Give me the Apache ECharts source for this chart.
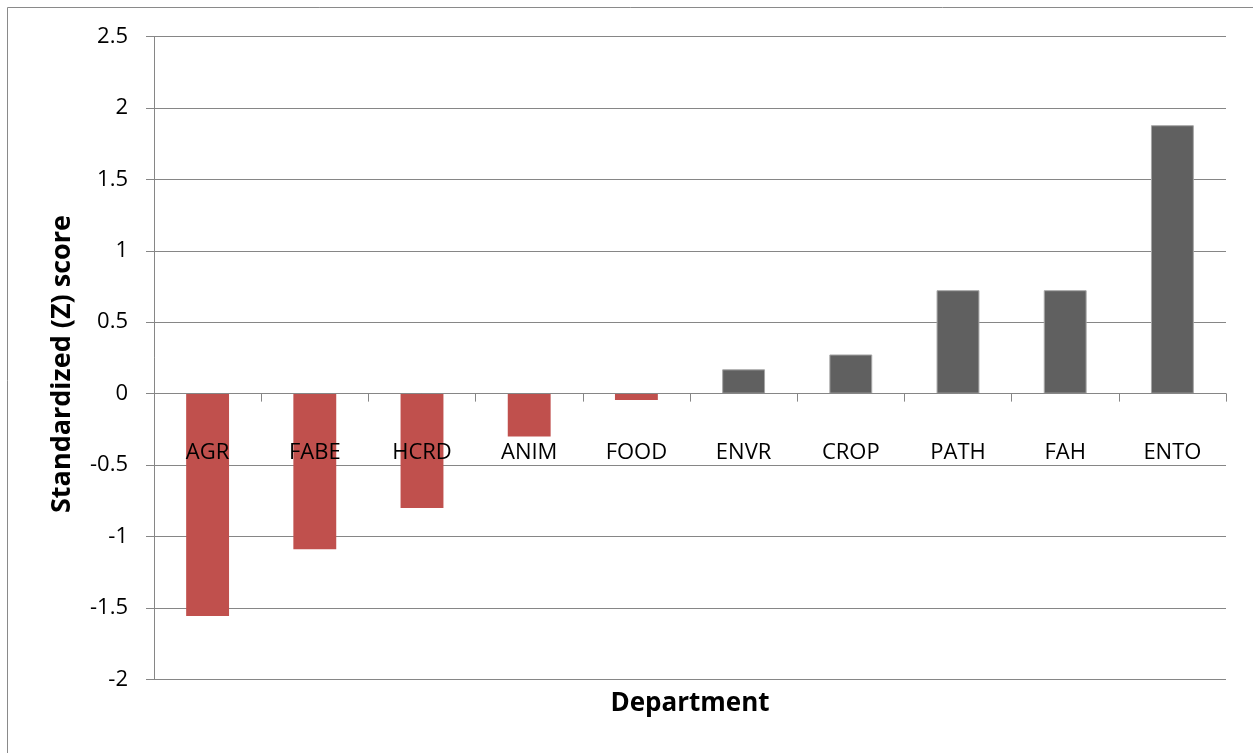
<!DOCTYPE html>
<html>
<head>
<meta charset="utf-8">
<script src="https://cdn.jsdelivr.net/npm/echarts@6/dist/echarts.min.js"></script>
<style>
html,body{margin:0;padding:0;background:#fff;}
#main{width:1253px;height:753px;}
</style>
</head>
<body>
<div id="main"></div>
<script>
var categories = ['AGR','FABE','HCRD','ANIM','FOOD','ENVR','CROP','PATH','FAH','ENTO'];
var zScores = [-1.556, -1.09, -0.80, -0.30, -0.045, 0.17, 0.274, 0.724, 0.724, 1.879];
var yTicks = [-2, -1.5, -1, -0.5, 0, 0.5, 1, 1.5, 2, 2.5];
var xTitle = 'Department';
var yTitle = 'Standardized (Z) score';

var FONT = 'Open Sans';
var GRID_TOP = 36.5, GRID_BOTTOM = 73.7, H = 753;
var plotH = H - GRID_TOP - GRID_BOTTOM;
// distance (px) from bottom of plot to the zero line, derived from the axis range
var zeroOffset = plotH * (0 - (-2)) / (2.5 - (-2));

var chart = echarts.init(document.getElementById('main'));
chart.setOption({
  animation: false,
  backgroundColor: '#fff',
  grid: {left: 154, right: 27, top: GRID_TOP, bottom: GRID_BOTTOM, containLabel: false},
  graphic: [
    {type: 'rect', shape: {x: 7.5, y: 7.5, width: 1300, height: 800}, style: {fill: 'none', stroke: '#8a8a8a', lineWidth: 1}, z: -1},
    {type: 'text', position: [690, 704], style: {text: xTitle, font: 'bold 26px "' + FONT + '"', fill: '#000', textAlign: 'center', textVerticalAlign: 'middle'}},
    {type: 'text', rotation: Math.PI/2, position: [62, 364], style: {text: yTitle, font: 'bold 27px "' + FONT + '"', fill: '#000', textAlign: 'center', textVerticalAlign: 'middle'}}
  ],
  xAxis: {
    type: 'category',
    data: categories,
    position: 'bottom',
    offset: -zeroOffset,
    z: 10,
    axisLine: {onZero: false, lineStyle: {color: '#868686', width: 1}},
    axisTick: {show: true, inside: false, length: 8, lineStyle: {color: '#868686'}},
    axisLabel: {color: '#000', fontFamily: FONT, fontSize: 22, margin: 48, interval: 0},
    splitLine: {show: false}
  },
  yAxis: {
    type: 'value',
    min: -2, max: 2.5, interval: 0.5,
    axisLine: {show: true, lineStyle: {color: '#868686', width: 1}},
    axisTick: {show: true, length: 8, lineStyle: {color: '#868686'}},
    axisLabel: {color: '#000', fontFamily: FONT, fontSize: 22, margin: 26,
      formatter: function(v){ return yTicks.indexOf(v) >= 0 ? String(v) : ''; }},
    splitLine: {show: true, lineStyle: {color: '#868686', width: 1}}
  },
  series: [{
    type: 'bar',
    barWidth: '40%',
    z: 2,
    data: zScores.map(function(v){
      return {value: v, itemStyle: v < 0 ? {color: '#C0504D'} : {color: '#606060', borderColor: '#a6a6a6', borderWidth: 1}};
    })
  }]
});
</script>
</body>
</html>
